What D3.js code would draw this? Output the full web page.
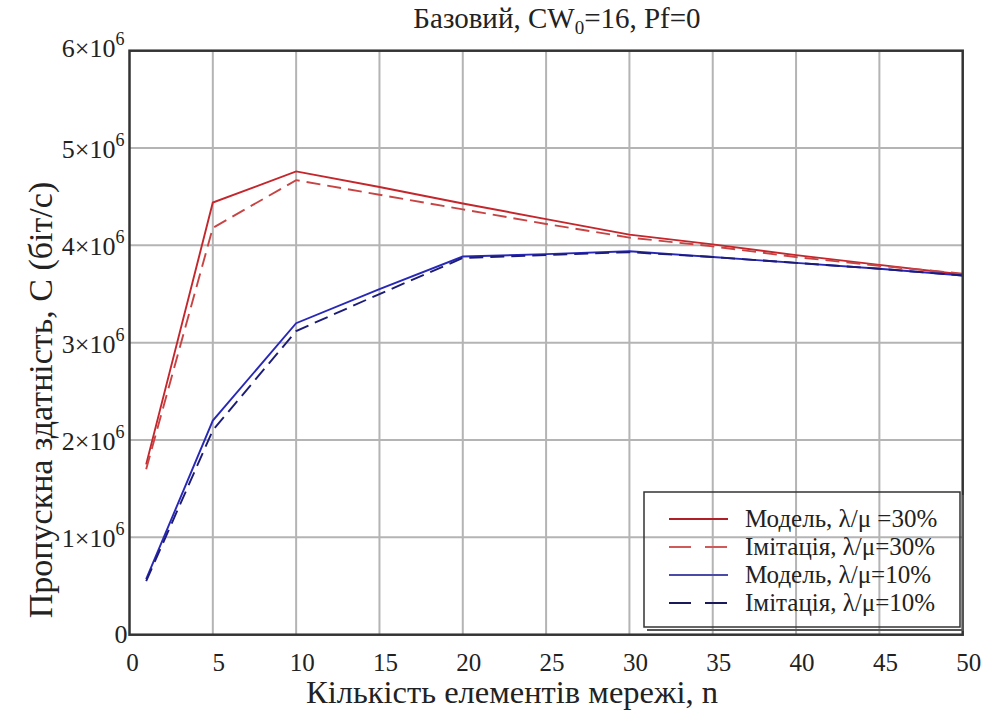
<!DOCTYPE html>
<html><head><meta charset="utf-8">
<script src="https://cdn.jsdelivr.net/npm/d3@7"></script>
<style>body{margin:0;background:#fff}svg{display:block}</style>
</head><body><svg id="c" width="990" height="711" font-family="'Liberation Serif','Times New Roman',Times,serif" fill="#222"></svg>
<script>
const nValues = [1,5,10,15,20,25,30,35,40,45,50];
const redModel = [1.75e6,4.44e6,4.76e6,4.60e6,4.43e6,4.27e6,4.11e6,4.01e6,3.90e6,3.80e6,3.70e6];
const redSim   = [1.70e6,4.18e6,4.67e6,4.52e6,4.37e6,4.22e6,4.08e6,3.99e6,3.88e6,3.79e6,3.71e6];
const blueModel= [0.57e6,2.20e6,3.20e6,3.55e6,3.885e6,3.91e6,3.94e6,3.88e6,3.82e6,3.76e6,3.69e6];
const blueSim  = [0.55e6,2.10e6,3.12e6,3.50e6,3.87e6,3.90e6,3.93e6,3.88e6,3.82e6,3.76e6,3.69e6];
const xTicks = [0,5,10,15,20,25,30,35,40,45,50];
const yTicks = [0,1e6,2e6,3e6,4e6,5e6,6e6];
const legendLabels = ["Модель, λ/μ =30%","Імітація, λ/μ=30%","Модель, λ/μ=10%","Імітація, λ/μ=10%"];

const series = [
  {vals: redModel, color:"#c4262c", dash:null},
  {vals: redSim, color:"#c84444", dash:"14,7"},
  {vals: blueModel, color:"#2828b8", dash:null},
  {vals: blueSim, color:"#1c1c78", dash:"14,7"}
];
const legendColors = ["#b01e28","#d05a5a","#4a4aa8","#1a1a5a"];

const svg = d3.select("#c");
const L=129.5, R=962.7, T=50.7, B=634.7;
const x = d3.scaleLinear().domain([0,50]).range([L,R]);
const y = d3.scaleLinear().domain([0,6e6]).range([B,T]);

svg.append("g").selectAll("line").data(xTicks.slice(1,-1)).join("line")
  .attr("x1",d=>x(d)).attr("x2",d=>x(d)).attr("y1",T).attr("y2",B)
  .attr("stroke","#b4b4b4").attr("stroke-width",2);
svg.append("g").selectAll("line").data(yTicks.slice(1,-1)).join("line")
  .attr("y1",d=>y(d)).attr("y2",d=>y(d)).attr("x1",L).attr("x2",R)
  .attr("stroke","#b4b4b4").attr("stroke-width",2);

const line = d3.line().x((d,i)=>x(nValues[i])).y(d=>y(d));
series.forEach(s=>{
  svg.append("path").datum(s.vals).attr("d",line).attr("fill","none")
    .attr("stroke",s.color).attr("stroke-width",1.9)
    .attr("stroke-dasharray",s.dash);
});

svg.append("rect").attr("x",L).attr("y",T).attr("width",R-L).attr("height",B-T)
  .attr("fill","none").attr("stroke","#333").attr("stroke-width",2.5);

svg.append("g").selectAll("text").data(xTicks).join("text")
  .attr("x",d=>x(d)+(d===0?3:6)).attr("y",B+36).attr("text-anchor","middle")
  .attr("font-size",25).text(d=>d);

const yl = svg.append("g").selectAll("text").data(yTicks).join("text")
  .attr("x",d=>d===0?L-2:L-5).attr("y",d=>y(d)+(d===0?8:(d===6e6?6:10))).attr("text-anchor","end").attr("font-size",26);
yl.each(function(d){
  const t=d3.select(this);
  if(d===0){t.text("0");return;}
  t.append("tspan").text((d/1e6)+"×10");
  t.append("tspan").attr("font-size",18).attr("dy",-12).text("6");
});

const title = svg.append("text").attr("x",557).attr("y",28).attr("text-anchor","middle").attr("font-size",29);
title.append("tspan").text("Базовий, CW");
title.append("tspan").attr("font-size",19).attr("dy",6).text("0");
title.append("tspan").attr("dy",-6).text("=16, Pf=0");

svg.append("text").attr("x",512).attr("y",703).attr("text-anchor","middle").attr("font-size",32.5)
  .text("Кількість елементів мережі, n");
svg.append("text").attr("transform","translate(52,400) rotate(-90)").attr("text-anchor","middle").attr("font-size",34)
  .text("Пропускна здатність, C (біт/с)");

const lx=644, ly=492, lw=316, lh=135;
svg.append("path").attr("d",`M${lx+lw+3},${ly+3}V${ly+lh+3}H${lx+3}`).attr("fill","none").attr("stroke","#555").attr("stroke-width",2);
svg.append("rect").attr("x",lx).attr("y",ly).attr("width",lw).attr("height",lh)
  .attr("fill","none").attr("stroke","#333").attr("stroke-width",1.5);
const lg = svg.append("g").selectAll("g").data(legendLabels).join("g")
  .attr("transform",(d,i)=>`translate(0,${519+i*28})`);
lg.append("line").attr("x1",669).attr("x2",728).attr("y1",0).attr("y2",0)
  .attr("stroke",(d,i)=>legendColors[i]).attr("stroke-width",1.8)
  .attr("stroke-dasharray",(d,i)=>series[i].dash?"22,14":null);
lg.append("text").attr("x",745).attr("y",8).attr("font-size",25).text(d=>d);
</script></body></html>
